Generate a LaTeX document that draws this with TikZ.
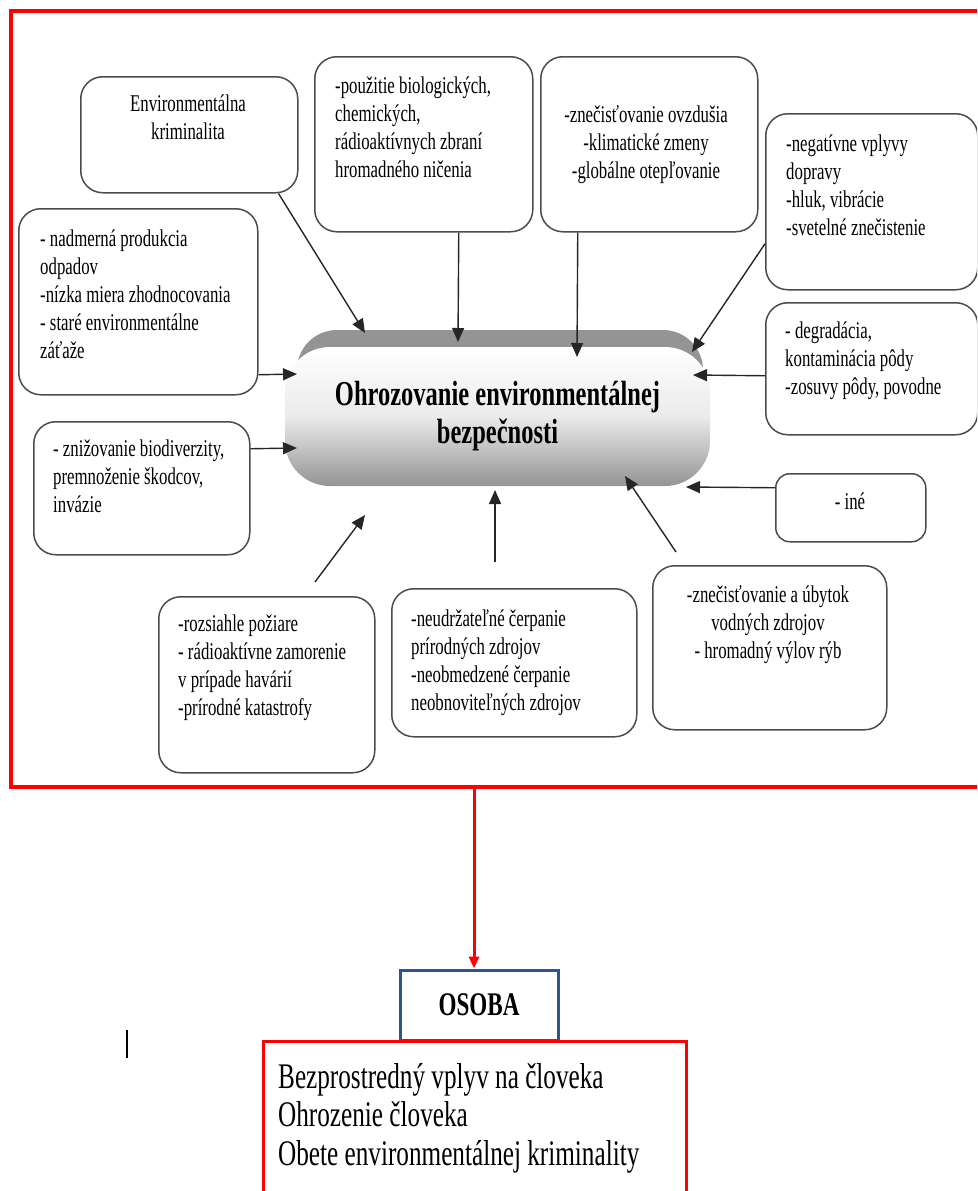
\documentclass[tikz,border=0pt]{standalone}
\usepackage{fontspec}
\setmainfont[FakeStretch=0.7]{Liberation Serif}
\usetikzlibrary{arrows.meta}

\definecolor{osobablue}{RGB}{47,85,140}

\begin{document}
\begin{tikzpicture}[x=1pt, y=-1pt,
    box/.style={draw=black!70, line width=1.5pt, rounded corners=22pt, anchor=north west, inner sep=0pt},
    boxtext/.style={font=\fontsize{24}{28}\selectfont, inner sep=0pt, execute at begin node=\strut},
    core/.style={rounded corners=45pt, minimum width=425pt, minimum height=139pt,
        top color=white, bottom color=black!42, middle color=black!8,
        align=center, font=\fontsize{35}{38}\selectfont\bfseries, inner sep=0pt},
    conn/.style={draw=black!85, line width=1.4pt, -{Triangle[length=14pt,width=12pt]}},
    redconn/.style={draw=red, line width=3pt, -{Triangle[length=12pt,width=10pt]}},
    ]
    \clip (0,0) rectangle (977,1191);

    % red frame round the whole scheme
    \draw[red, line width=4pt] (11,11) rectangle (995,787);

    % central node with its grey top bevel
    \fill[black!42, rounded corners=40pt] (297,330) rectangle (703,450);
    \node[core] (core) at (497.5,416.5) {Ohrozovanie environmentálnej\\bezpečnosti};

    % boxes round the centre
    \node[box, minimum width=217pt, minimum height=116pt] (b_envkrim) at (80,76) {};
    \node[box, minimum width=218pt, minimum height=175pt] (b_zbrane) at (314,56) {};
    \node[box, minimum width=217pt, minimum height=175pt] (b_ovzdusie) at (540,56) {};
    \node[box, minimum width=212pt, minimum height=176pt] (b_doprava) at (765,113) {};
    \node[box, minimum width=212pt, minimum height=132pt] (b_poda) at (765,302) {};
    \node[box, minimum width=150pt, minimum height=68pt, rounded corners=14pt] (b_ine) at (775,473) {};
    \node[box, minimum width=234pt, minimum height=164pt] (b_voda) at (652,565) {};
    \node[box, minimum width=245pt, minimum height=148pt] (b_cerpanie) at (391,588) {};
    \node[box, minimum width=216pt, minimum height=176pt] (b_poziare) at (158,596) {};
    \node[box, minimum width=216pt, minimum height=133pt] (b_biodiv) at (33,421) {};
    \node[box, minimum width=239pt, minimum height=186pt] (b_odpad) at (18,208) {};

    % texts of the boxes
    \node[boxtext, align=center, anchor=north] (t_envkrim) at (188,95) {Environmentálna\\kriminalita};
    \node[boxtext, align=left, anchor=north west] (t_zbrane) at (335,77)
        {-použitie biologických,\\chemických,\\rádioaktívnych zbraní\\hromadného ničenia};
    \node[boxtext, align=center, anchor=north] (t_ovzdusie) at (646,105)
        {-znečisťovanie ovzdušia\\-klimatické zmeny\\-globálne otepľovanie};
    \node[boxtext, align=left, anchor=north west] (t_doprava) at (786,135)
        {-negatívne vplyvy\\dopravy\\-hluk, vibrácie\\-svetelné znečistenie};
    \node[boxtext, align=left, anchor=north west] (t_poda) at (785,322)
        {- degradácia,\\kontaminácia pôdy\\-zosuvy pôdy, povodne};
    \node[boxtext, anchor=north] (t_ine) at (850,490) {- iné};
    \node[boxtext, align=center, anchor=north] (t_voda) at (768,585)
        {-znečisťovanie a úbytok\\vodných zdrojov\\- hromadný výlov rýb};
    \node[boxtext, align=left, anchor=north west] (t_cerpanie) at (411,610)
        {-neudržateľné čerpanie\\prírodných zdrojov\\-neobmedzené čerpanie\\neobnoviteľných zdrojov};
    \node[boxtext, align=left, anchor=north west] (t_poziare) at (178,615)
        {-rozsiahle požiare\\- rádioaktívne zamorenie\\v prípade havárií\\-prírodné katastrofy};
    \node[boxtext, align=left, anchor=north west] (t_biodiv) at (53,440)
        {- znižovanie biodiverzity,\\premnoženie škodcov,\\invázie};
    \node[boxtext, align=left, anchor=north west] (t_odpad) at (40,230)
        {- nadmerná produkcia\\odpadov\\-nízka miera zhodnocovania\\- staré environmentálne\\záťaže};

    % arrow ends at the central node
    \coordinate (in_envkrim) at (365,333);
    \coordinate (in_zbrane) at (458,342);
    \coordinate (in_ovzdusie) at (577,357);
    \coordinate (in_doprava) at (692,352);
    \coordinate (in_poda) at (693,375);
    \coordinate (in_ine) at (686,487);
    \coordinate (in_voda) at (625,476);
    \coordinate (in_cerpanie) at (495,490);
    \coordinate (in_poziare) at (365,515);
    \coordinate (in_biodiv) at (297,448);
    \coordinate (in_odpad) at (297,374);
    % free starts above the lower boxes
    \coordinate (out_voda) at (676,552);
    \coordinate (out_cerpanie) at (495,562);
    \coordinate (out_poziare) at (315,582);

    % connectors
    \draw[conn] ([xshift=-20pt]b_envkrim.south east) -- (in_envkrim);
    \draw[conn] ([xshift=35pt]b_zbrane.south) -- (in_zbrane);
    \draw[conn] ([xshift=-71.5pt]b_ovzdusie.south) -- (in_ovzdusie);
    \draw[conn] ([yshift=-42pt]b_doprava.west) -- (in_doprava);
    \draw[conn] ([yshift=-7pt]b_poda.west) -- (in_poda);
    \draw[conn] ([yshift=20pt]b_ine.west) -- (in_ine);
    \draw[conn] (out_voda) -- (in_voda);
    \draw[conn] (out_cerpanie) -- (in_cerpanie);
    \draw[conn] (out_poziare) -- (in_poziare);
    \draw[conn] ([yshift=39.5pt]b_biodiv.east) -- (in_biodiv);
    \draw[conn] ([yshift=-73pt]b_odpad.east) -- (in_odpad);

    % person and the effects on him
    \node[draw=osobablue, line width=3pt, minimum width=158pt, minimum height=70pt,
        font=\fontsize{33}{36}\selectfont\bfseries] (osoba) at (479,1005) {OSOBA};
    \node[draw=red, line width=3pt, anchor=north west, minimum width=423pt, minimum height=200pt,
        inner sep=0pt] (effects) at (262,1040) {};
    \node[align=left, anchor=north west, inner sep=0pt, font=\fontsize{36}{38.5}\selectfont,
        execute at begin node=\strut] (t_effects) at (278,1063)
        {Bezprostredný vplyv na človeka\\Ohrozenie človeka\\Obete environmentálnej kriminality};

    \coordinate (drop) at (474,787);
    \draw[redconn] (drop) -- (drop |- osoba.north);

    % stray mark left of the boxes
    \draw[line width=2pt] (127,1030) -- (127,1058);
\end{tikzpicture}
\end{document}
